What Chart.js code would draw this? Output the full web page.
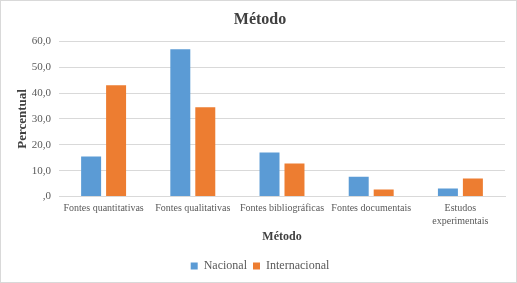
<!DOCTYPE html>
<html><head><meta charset="utf-8">
<script src="https://cdn.jsdelivr.net/npm/chart.js@4.4.0/dist/chart.umd.min.js"></script>
<style>
html,body{margin:0;padding:0;background:#fff;}
#wrap{position:absolute;left:0;top:0;width:515px;height:281px;border:1px solid #d9d9d9;}
canvas{display:block;}
</style></head><body>
<div id="wrap"><canvas id="c" width="515" height="281"></canvas></div>
<script>
const categories = ["Fontes quantitativas","Fontes qualitativas","Fontes bibliográficas","Fontes documentais",["Estudos","experimentais"]];
const nacional = [15.5, 56.9, 17.0, 7.7, 3.1];
const internacional = [43.0, 34.5, 12.8, 2.7, 7.0];
const yTicks = [0,10,20,30,40,50,60];

Chart.defaults.font.family = "'Liberation Serif', 'Times New Roman', serif";
Chart.defaults.color = "#595959";
new Chart(document.getElementById('c'), {
  type: 'bar',
  data: {
    labels: categories,
    datasets: [
      {label:'Nacional', data: nacional, backgroundColor:'#5b9bd5', categoryPercentage:0.56, barPercentage:0.8},
      {label:'Internacional', data: internacional, backgroundColor:'#ed7d31', categoryPercentage:0.56, barPercentage:0.8}
    ]
  },
  options: {
    responsive:false, animation:false,
    layout:{padding:{left:14,right:11,top:4,bottom:0}},
    plugins:{
      title:{display:true,text:'Método',color:'#404040',font:{size:16,weight:'bold'},padding:{top:5,bottom:12}},
      legend:{position:'bottom',labels:{boxWidth:7,boxHeight:7,font:{size:12},color:'#595959',padding:6}},
      tooltip:{enabled:false}
    },
    scales:{
      x:{grid:{display:false,drawTicks:false,tickLength:0},border:{color:'#d9d9d9'},
         ticks:{font:{size:10,lineHeight:1.3},color:'#595959',maxRotation:0,autoSkip:false,padding:5},
         title:{display:true,text:'Método',color:'#404040',font:{size:12,weight:'bold'},padding:{top:-3,bottom:10}}},
      y:{min:0,max:60,afterBuildTicks:(s)=>{s.ticks=yTicks.map(v=>({value:v}));},
         afterFit:(s)=>{s.width=44;},
         grid:{color:'#d9d9d9',drawTicks:false,tickLength:0},border:{display:false},
         ticks:{font:{size:11},color:'#595959',padding:8,callback:(v)=> v===0?',0':v.toFixed(1).replace('.',',')},
         title:{display:true,text:'Percentual',color:'#404040',font:{size:13,weight:'bold'},padding:{top:0,bottom:0}}}
    }
  }
});
</script></body></html>
